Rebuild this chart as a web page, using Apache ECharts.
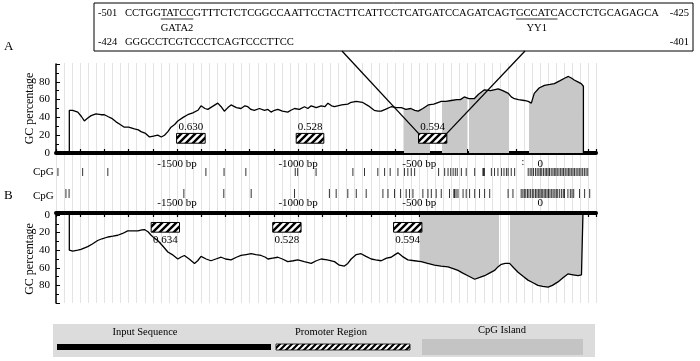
<!DOCTYPE html>
<html><head><meta charset="utf-8">
<script src="https://cdn.jsdelivr.net/npm/echarts@6/dist/echarts.min.js"></script>
<style>html,body{margin:0;padding:0;background:#fff}#c{width:700px;height:361px}</style>
</head><body><div id="c"></div>
<script>
// ---------------- DATA ----------------
// Panel A: GC percentage along the input sequence (bp relative to TSS)
const bpA = [-1945,-1945,-1931,-1910,-1895,-1883,-1870,-1855,-1835,-1814,
  -1800,-1786,-1770,-1752,-1735,-1718,-1700,-1676,-1660,-1649,
  -1630,-1614,-1597,-1580,-1565,-1552,-1538,-1525,-1510,-1497,
  -1475,-1456,-1435,-1414,-1401,-1385,-1373,-1350,-1332,-1318,
  -1305,-1290,-1277,-1255,-1236,-1220,-1208,-1195,-1181,-1160,
  -1139,-1125,-1112,-1098,-1084,-1065,-1043,-1030,-1015,-995,
  -974,-960,-946,-925,-905,-890,-877,-862,-850,-820,
  -795,-781,-760,-735,-710,-686,-670,-657,-640,-616,
  -595,-574,-555,-535,-518,-504,-485,-463,-440,-420,
  -409,-390,-368,-345,-330,-314,-295,-273,-255,-231,
  -205,-174,-155,-132,-120,-107,-90,-66,-50,-37,
  -25,-5,17,40,58,80,100,116,130,140,
  155,169,178,178];
const gcA = [0,48,48,46,41,36,39,42,44,43,
  43,41,39,35,32,29,29,27,26,24,
  22,18,19,20,18,20,24,29,32,36,
  40,43,45,48,53,50,49,53,56,52,
  47,51,54,51,50,53,52,49,48,50,
  48,49,46,48,49,47,46,48,50,49,
  52,50,53,51,53,52,56,53,52,54,
  55,57,58,57,53,48,47,47,49,52,
  51,51,49,50,48,47,50,54,55,57,
  58,58,59,60,60,63,61,61,66,71,
  70,72,70,67,63,61,60,59,58,56,
  67,73,76,77,78,81,84,86,84,82,
  80,78,75,0];
// Panel B
const bpB = [-1945,-1945,-1931,-1910,-1897,-1869,-1850,-1828,-1810,-1786,
  -1765,-1745,-1725,-1704,-1680,-1662,-1645,-1635,-1620,-1607,
  -1595,-1580,-1560,-1538,-1520,-1497,-1485,-1470,-1450,-1428,
  -1415,-1401,-1380,-1360,-1340,-1318,-1300,-1277,-1255,-1236,
  -1215,-1194,-1175,-1153,-1135,-1125,-1105,-1084,-1065,-1043,
  -1020,-1001,-975,-946,-925,-905,-880,-850,-830,-809,
  -795,-781,-760,-740,-720,-698,-680,-657,-635,-616,
  -600,-588,-570,-547,-520,-492,-465,-437,-410,-381,
  -360,-340,-320,-299,-285,-271,-250,-230,-210,-189,
  -175,-161,-145,-127,-110,-92,-70,-51,-30,-10,
  10,32,50,73,95,114,135,156,170,176,176];
const gcB = [0,40,41,40,39,36,33,29,27,25,
  24,23,21,18,18,18,17,16.5,19,23,
  26,29,35,42,45,50,48,46,50,55,
  52,47,50,52,50,48,50,51,48,46,
  45,44,45,46,48,50,49,48,50,53,
  52,51,53,55,52,50,51,53,57,58,
  55,50,45,44,47,50,51,52,49,48,
  45,43,47,51,52,53,55,57,58,59,
  61,63,66,69,71,73,71,69,66,63,
  59,56,55,55,60,65,70,74,77,80,
  81,82,80,76,71,67,68,69,68,67,0];
// CpG island regions (bp)
const islandsA = [[-562,-455],[-405,-302],[-293,-128],[-45,178]];
const islandsB = [[-495,-172],[-127,176]];
// Promoter regions (bp start, bp end) and scores
const promoterA = [[-1502,-1384],[-1008,-894],[-503,-386]];
const scoresA = ['0.630','0.528','0.594'];
const promoterB = [[-1607,-1490],[-1105,-988],[-606,-489]];
const scoresB = ['0.634','0.528','0.594'];
const promoterGcA = [11,22];
const promoterGcB = [8.5,19.5];
// CpG sites (bp)
const cpgA = [-1992,-1890,-1786,-1381,-1306,-1216,-1012,-1002,-926,-774,-726,-671,-643,-620,-588,
  -561,-547,-533,-519,-420,-395,-381,-370,-360,-351,-343,-326,-306,-271,-237,-234,-231,-202,-189,
  -175,-160,-150,-140,-133,-120,-106,-50,-42,-35,-28,-20,-13,-6,0,6,13,20,26,32,38,45,52,58,64,70,
  77,84,90,96,103,110,116,122,128,135,141,148,155,161,168,175,182,189,196];
const cpgB = [-1959,-1946,-1472,-1307,-1194,-1015,-871,-843,-795,-760,-719,-650,-629,-602,-577,-554,
  -540,-526,-485,-464,-450,-430,-409,-375,-357,-354,-348,-340,-319,-306,-292,-271,-251,-230,-209,
  -133,-113,-79,-72,-66,-60,-53,-47,-40,-33,-27,-20,-14,-8,-2,4,10,16,22,28,34,40,47,53,60,66,72,
  80,88,95,100,114,124,131,138,162,183,204];
// Axis tick labels
const xTickValues = [-1500,-1000,-500,0];
const xTickTexts = ['-1500 bp','-1000 bp','-500 bp','0'];
const yTickValues = [0,20,40,60,80];
// Inset sequence
const seq1 = 'CCTGGTATCCGTTTCTCTCGGCCAATTCCTACTTCATTCCTCATGATCCAGATCAGTGCCATCACCTCTGCAGAGCA';
const seq2 = 'GGGCCTCGTCCCTCAGTCCCTTCC';
const motifs = [['TATCC','GATA2'],['GCCATC','YY1']];
const legendItems = ['Input Sequence','Promoter Region','CpG Island'];

// ---------------- CHART ----------------
const FONT = '"Liberation Serif","Times New Roman",serif';
const zip = (a,b)=>a.map((v,i)=>[v,b[i]]);

function hatchCanvas(size, lw){
  const c=document.createElement('canvas'); c.width=c.height=size;
  const g=c.getContext('2d'); g.fillStyle='#fff'; g.fillRect(0,0,size,size);
  g.strokeStyle='#000'; g.lineWidth=lw; g.beginPath();
  g.moveTo(0,size); g.lineTo(size,0);
  g.moveTo(-size/2,size/2); g.lineTo(size/2,-size/2);
  g.moveTo(size/2,size*1.5); g.lineTo(size*1.5,size/2);
  g.stroke(); return c;
}
const HATCH_BOX = hatchCanvas(7, 2.4);
const HATCH_LEG = hatchCanvas(6, 2.2);

const chart = echarts.init(document.getElementById('c'), null, {renderer:'canvas', width:700, height:361});
const L=56, W=540;
const grid = [
  {left:L, width:W, top:63, height:240},
  {left:L, width:W, top:64, height:89},
  {left:L, width:W, top:168, height:8},
  {left:L, width:W, top:189, height:9},
  {left:L, width:W, top:215, height:88}
];
const lblFmt = v => { const i=xTickValues.indexOf(Math.round(v)); return i>=0?xTickTexts[i]:''; };
function xAx(gi, extra){
  return Object.assign({type:'value', gridIndex:gi, min:-2000, max:230, interval:100,
    axisLine:{show:false}, axisTick:{show:false}, axisLabel:{show:false}, splitLine:{show:false}}, extra||{});
}
const plotX = (pos, off, margin) => ({position:pos, offset:off, axisLine:{show:true, onZero:false, lineStyle:{color:'#000', width:4}},
  axisTick:{show:true, inside:true, length:4, lineStyle:{color:'#000', width:1.2}},
  axisLabel:{show:true, formatter:lblFmt, margin:margin, fontFamily:FONT, fontSize:11, color:'#000'}});
function yPlot(gi, inverse){
  return {type:'value', gridIndex:gi, min:0, max:100, interval:20, inverse:inverse,
    axisLine:{show:true, onZero:false, lineStyle:{color:'#000', width:1.5}},
    axisTick:{show:true, inside:true, length:4, lineStyle:{color:'#000'}},
    minorTick:{show:true, splitNumber:2, length:3, lineStyle:{color:'#000'}},
    axisLabel:{formatter:v=>yTickValues.indexOf(v)>=0?String(v):'', fontFamily:FONT, fontSize:11, color:'#000', margin:6},
    splitLine:{show:false},
    name:'GC percentage', nameLocation:'middle', nameGap:20, nameRotate:90, nameMoveOverlap:false,
    nameTextStyle:{fontFamily:FONT, fontSize:12, color:'#000'}};
}
const yHidden = gi => ({type:'value', gridIndex:gi, min:0, max:1, show:false});

function boxSeries(ai, ranges, gcr, scores, above){
  return {type:'custom', xAxisIndex:ai, yAxisIndex:ai, z:6, silent:true,
    data: ranges.map((r,i)=>[r[0], r[1], gcr[0], gcr[1], i]),
    encode:{x:[0,1], y:[2,3]},
    renderItem(params, api){
      const p0=api.coord([api.value(0), api.value(3)]), p1=api.coord([api.value(1), api.value(2)]);
      const x=Math.min(p0[0],p1[0]), y=Math.min(p0[1],p1[1]);
      const w=Math.abs(p1[0]-p0[0]), h=Math.abs(p1[1]-p0[1]);
      return {type:'group', children:[
        {type:'rect', shape:{x:x, y:y, width:w, height:h}, style:{fill:{image:HATCH_BOX, repeat:'repeat'}, stroke:'#000', lineWidth:1}},
        {type:'text', style:{text:scores[api.value(4)], x:x+w/2, y: above? y-1 : y+h+2, align:'center',
          verticalAlign: above?'bottom':'top', font:'11px '+FONT, fill:'#000'}}
      ]};
    }};
}
const cpgSeries = (ai, sites, h) => ({type:'scatter', xAxisIndex:ai, yAxisIndex:ai, symbol:'rect', symbolSize:[1,h],
  itemStyle:{color:'#000'}, silent:true, data: sites.map(s=>[s,0.5]), z:4});
const areaSeries = (ai, bp, gc) => ({type:'line', xAxisIndex:ai, yAxisIndex:ai, data:zip(bp,gc), showSymbol:false,
  lineStyle:{width:0}, areaStyle:{opacity:1}, z:1, silent:true});
const lineSeries = (ai, bp, gc) => ({type:'line', xAxisIndex:ai, yAxisIndex:ai, data:zip(bp,gc), showSymbol:false,
  lineStyle:{color:'#000', width:1.3}, itemStyle:{color:'#000'}, z:3, silent:true});

const option = {
  animation:false,
  grid: grid,
  xAxis: [
    xAx(0, {splitLine:{show:true, lineStyle:{color:'#e3e3e3', width:1}},
            minorTick:{show:false, splitNumber:3}, minorSplitLine:{show:true, lineStyle:{color:'#e3e3e3', width:1}}}),
    xAx(1, plotX('bottom', 0, 6)),
    xAx(2), xAx(3),
    xAx(4, plotX('top', 2, 4))
  ],
  yAxis: [yHidden(0), yPlot(1,false), yHidden(2), yHidden(3), yPlot(4,true)],
  visualMap: [
    {type:'piecewise', show:false, dimension:0, seriesIndex:0,
     pieces: islandsA.map(r=>({gte:r[0], lte:r[1], color:'#c8c8c8'})), outOfRange:{color:'rgba(255,255,255,0)'}},
    {type:'piecewise', show:false, dimension:0, seriesIndex:5,
     pieces: islandsB.map(r=>({gte:r[0], lte:r[1], color:'#c8c8c8'})), outOfRange:{color:'rgba(255,255,255,0)'}}
  ],
  series: [
    areaSeries(1, bpA, gcA),
    lineSeries(1, bpA, gcA),
    boxSeries(1, promoterA, promoterGcA, scoresA, true),
    cpgSeries(2, cpgA, 8),
    cpgSeries(3, cpgB, 9),
    areaSeries(4, bpB, gcB),
    lineSeries(4, bpB, gcB),
    boxSeries(4, promoterB, promoterGcB, scoresB, false)
  ]
};
chart.setOption(option);

// ---------- annotations: inset, connector lines, labels, legend ----------
const mc = document.createElement('canvas').getContext('2d');
function tw(t, fs){ mc.font = fs+'px "Liberation Serif"'; return mc.measureText(t).width; }
const seqX = 125, seqRight = 660;
const FS = Math.min(12, Math.max(9, 10*(seqRight-seqX)/tw(seq1,10)));
const gr = [];
gr.push({type:'rect', shape:{x:94, y:3, width:599, height:48}, style:{fill:'#fff', stroke:'#000', lineWidth:1}, z:10});
const T = (text, x, y, align, fs, extra) => Object.assign({type:'text', z:11,
  style:{text:text, x:x, y:y, align:align||'left', verticalAlign:'middle', font:(fs||FS)+'px '+FONT, fill:'#000'}}, extra||{});
gr.push(T('-501', 98, 13.5));
gr.push(T(seq1, seqX, 13.5));
gr.push(T('-425', 689, 13.5, 'right'));
gr.push(T('-424', 98, 42));
gr.push(T(seq2, seqX, 42));
gr.push(T('-401', 689, 42, 'right'));
motifs.forEach(m=>{
  const i = seq1.indexOf(m[0]);
  const x0 = seqX + tw(seq1.slice(0,i), FS), x1 = seqX + tw(seq1.slice(0,i+m[0].length), FS);
  gr.push({type:'line', z:11, shape:{x1:x0, y1:19, x2:x1, y2:19}, style:{stroke:'#000', lineWidth:0.8}});
  gr.push(T(m[1], (x0+x1)/2, 28, 'center'));
});
// connector lines from promoter box (panel A, third) to inset
const pr = promoterA[2];
const tl = chart.convertToPixel({xAxisIndex:1, yAxisIndex:1}, [pr[0], promoterGcA[1]]);
const trp = chart.convertToPixel({xAxisIndex:1, yAxisIndex:1}, [pr[1], promoterGcA[1]]);
gr.push({type:'line', z:12, shape:{x1:tl[0], y1:tl[1], x2:342, y2:51}, style:{stroke:'#000', lineWidth:1.3}});
gr.push({type:'line', z:12, shape:{x1:trp[0], y1:trp[1], x2:525, y2:51}, style:{stroke:'#000', lineWidth:1.3}});
// panel letters and row labels
gr.push(T('A', 4, 47, 'left', 13));
gr.push(T('B', 4, 196, 'left', 13));
gr.push(T('CpG', 33, 172.5, 'left', 11));
gr.push(T('CpG', 33, 196, 'left', 11));
gr.push(T(':', 523, 162, 'center', 10));
// legend
gr.push({type:'rect', z:10, shape:{x:53, y:324, width:542, height:33}, style:{fill:'#dcdcdc'}});
gr.push(T(legendItems[0], 145, 332, 'center', 10.5));
gr.push({type:'rect', z:11, shape:{x:57, y:344, width:214, height:6}, style:{fill:'#000'}});
gr.push(T(legendItems[1], 331, 332, 'center', 10.5));
gr.push({type:'rect', z:11, shape:{x:276, y:344, width:134, height:6}, style:{fill:{image:HATCH_LEG, repeat:'repeat'}, stroke:'#000', lineWidth:0.8}});
gr.push(T(legendItems[2], 502, 330, 'center', 10.5));
gr.push({type:'rect', z:11, shape:{x:422, y:339, width:161, height:16}, style:{fill:'#c4c4c4'}});
chart.setOption({graphic: gr});
</script></body></html>
